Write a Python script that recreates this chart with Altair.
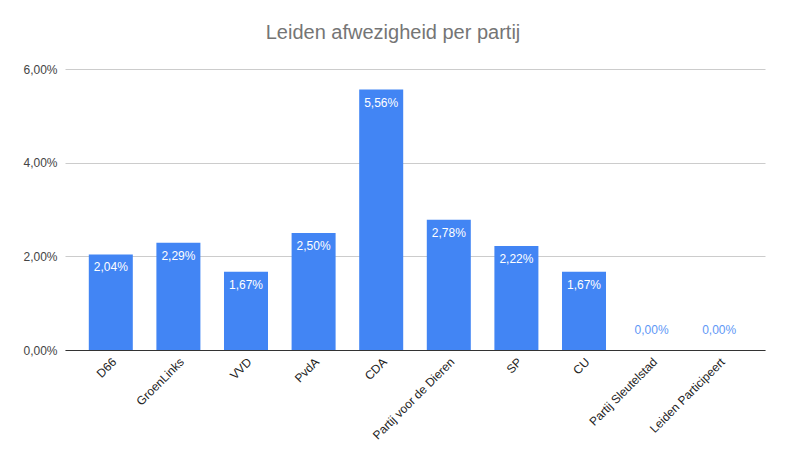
import altair as alt
import pandas as pd

parties = ["D66", "GroenLinks", "VVD", "PvdA", "CDA", "Partij voor de Dieren",
           "SP", "CU", "Partij Sleutelstad", "Leiden Participeert"]
absence = [0.0204, 0.0229, 0.0167, 0.0250, 0.0556, 0.0278, 0.0222, 0.0167, 0.0, 0.0]

df = pd.DataFrame({"partij": parties, "afwezigheid": absence})

FONT = "Liberation Sans"
BLUE = "#4285F4"

x = alt.X("partij:N", sort=parties, title=None,
          scale=alt.Scale(paddingInner=0.349, paddingOuter=0.352),
          axis=alt.Axis(labelAngle=-45, labelFontSize=12, labelColor="#222222",
                        labelFont=FONT, domainColor="#333333", ticks=False,
                        labelPadding=6, domainWidth=1))
y = alt.Y("afwezigheid:Q", title=None,
          scale=alt.Scale(domain=[0, 0.06]),
          axis=alt.Axis(values=[0, 0.02, 0.04, 0.06], domain=False, ticks=False,
                        labelExpr="replace(format(datum.value, '.2%'), '.', ',')",
                        labelFont=FONT, labelFontSize=12, labelColor="#444444",
                        gridColor="#cccccc", labelPadding=8))

base = alt.Chart(df).transform_calculate(
    lab="replace(format(datum.afwezigheid, '.2%'), '.', ',')"
)

bars = base.mark_bar(color=BLUE).encode(x=x, y=y)

inside = base.transform_filter("datum.afwezigheid > 0").mark_text(
    color="white", baseline="top", dy=8, font=FONT, fontSize=12
).encode(x=x, y=y, text="lab:N")

zero = base.transform_filter("datum.afwezigheid == 0").mark_text(
    color="#5e97f6", baseline="bottom", dy=-13, font=FONT, fontSize=12
).encode(x=x, y=y, text="lab:N")

chart = alt.layer(bars, inside, zero).properties(
    width=700, height=281,
    title=alt.TitleParams("Leiden afwezigheid per partij", font=FONT, fontSize=20,
                          fontWeight="normal", color="#757575", offset=20, dx=-22),
    autosize=alt.AutoSizeParams(type="none"),
    padding={"left": 57, "top": 61, "right": 14, "bottom": 94},
).configure_view(stroke=None)

chart.save("out.html", embed_options={"renderer": "svg", "actions": False})
